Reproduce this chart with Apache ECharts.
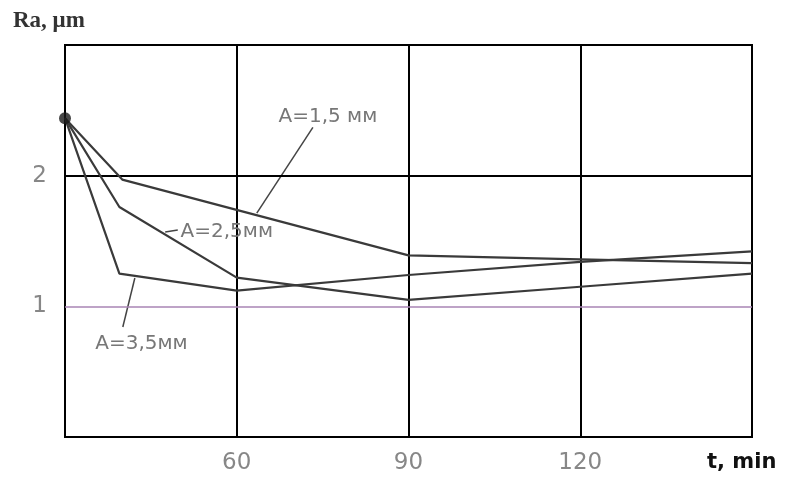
<!DOCTYPE html>
<html>
<head>
<meta charset="utf-8">
<script src="https://cdn.jsdelivr.net/npm/echarts@6/dist/echarts.min.js"></script>
<style>
html,body{margin:0;padding:0;background:#fff;}
#chart{width:787px;height:477px;}
</style>
</head>
<body>
<div id="chart"></div>
<script>
// ---- data ----
const xTicks = [60, 90, 120];
const yTicks = [1, 2];
const startPoint = [30, 2.44];
const seriesNames = ['A=1,5 мм', 'A=2,5мм', 'A=3,5мм'];
const a15 = [[30, 2.44], [40, 1.97], [90, 1.39], [120, 1.36], [150, 1.33]];
const a25 = [[30, 2.44], [39.5, 1.76], [60, 1.22], [90, 1.05], [120, 1.15], [150, 1.25]];
const a35 = [[30, 2.44], [39.5, 1.25], [60, 1.12], [90, 1.24], [120, 1.34], [150, 1.42]];

// annotation anchors (data coordinates)
const labelAnchors = [[67.2, 2.45], [50.1, 1.57], [35.2, 0.71]];
const leaderLines = [
  [[73.3, 2.37], [63.5, 1.714]],
  [[47.5, 1.569], [49.7, 1.584]],
  [[42.2, 1.217], [40.1, 0.842]]
];

const chart = echarts.init(document.getElementById('chart'), null, {renderer: 'canvas'});
const lineColor = '#3a3a3a';
const seriesData = [a15, a25, a35];

const series = seriesData.map((d, i) => ({
  name: seriesNames[i],
  type: 'line',
  data: d,
  symbol: 'none',
  lineStyle: {color: lineColor, width: 2.2},
  z: 5,
  markLine: {
    silent: true,
    symbol: ['none', 'none'],
    label: {show: false},
    lineStyle: {color: '#444', width: 1.5, type: 'solid'},
    data: [[{coord: leaderLines[i][0]}, {coord: leaderLines[i][1]}]]
  },
  markPoint: {
    silent: true,
    symbol: 'circle',
    symbolSize: 1,
    itemStyle: {color: 'rgba(0,0,0,0)'},
    label: {
      show: true,
      position: 'right',
      distance: 0,
      formatter: seriesNames[i],
      color: '#777',
      fontFamily: 'DejaVu Sans',
      fontSize: 20
    },
    data: [{coord: labelAnchors[i]}]
  }
}));

// reference horizontal lines
series.push({
  type: 'line',
  data: [],
  silent: true,
  markLine: {
    silent: true,
    symbol: ['none', 'none'],
    label: {show: false},
    data: [
      {yAxis: 2, lineStyle: {color: '#000', width: 2, type: 'solid'}},
      {yAxis: 1, lineStyle: {color: '#a884b4', width: 1.5, type: 'solid'}}
    ]
  }
});

series.push({
  type: 'scatter',
  data: [startPoint],
  symbol: 'circle',
  symbolSize: 12,
  itemStyle: {color: '#1a1a1a'},
  z: 10
});

chart.setOption({
  animation: false,
  backgroundColor: '#fff',
  grid: {left: 65, right: 35, top: 45, bottom: 40, show: true, borderColor: '#000', borderWidth: 2, backgroundColor: 'transparent'},
  xAxis: {
    type: 'value',
    min: 30, max: 150, interval: 30,
    axisLine: {show: false},
    axisTick: {show: false},
    splitLine: {show: true, lineStyle: {color: '#000', width: 2}},
    axisLabel: {
      margin: 15,
      color: '#878787',
      fontFamily: 'DejaVu Sans',
      fontSize: 23,
      formatter: v => xTicks.indexOf(v) >= 0 ? String(v) : ''
    }
  },
  yAxis: {
    type: 'value',
    min: 0, max: 3, interval: 1,
    axisLine: {show: false},
    axisTick: {show: false},
    splitLine: {show: false},
    axisLabel: {
      margin: 18,
      color: '#878787',
      fontFamily: 'DejaVu Sans',
      fontSize: 23,
      formatter: v => yTicks.indexOf(v) >= 0 ? String(v) : ''
    }
  },
  graphic: [
    {type: 'text', left: 13, top: 10, style: {text: 'Ra, μm', fill: '#333', font: 'bold 23px "Liberation Serif"'}},
    {type: 'text', left: 707, top: 452, style: {text: 't, min', fill: '#111', font: 'bold 21px "DejaVu Sans"'}}
  ],
  series: series
});
</script>
</body>
</html>
